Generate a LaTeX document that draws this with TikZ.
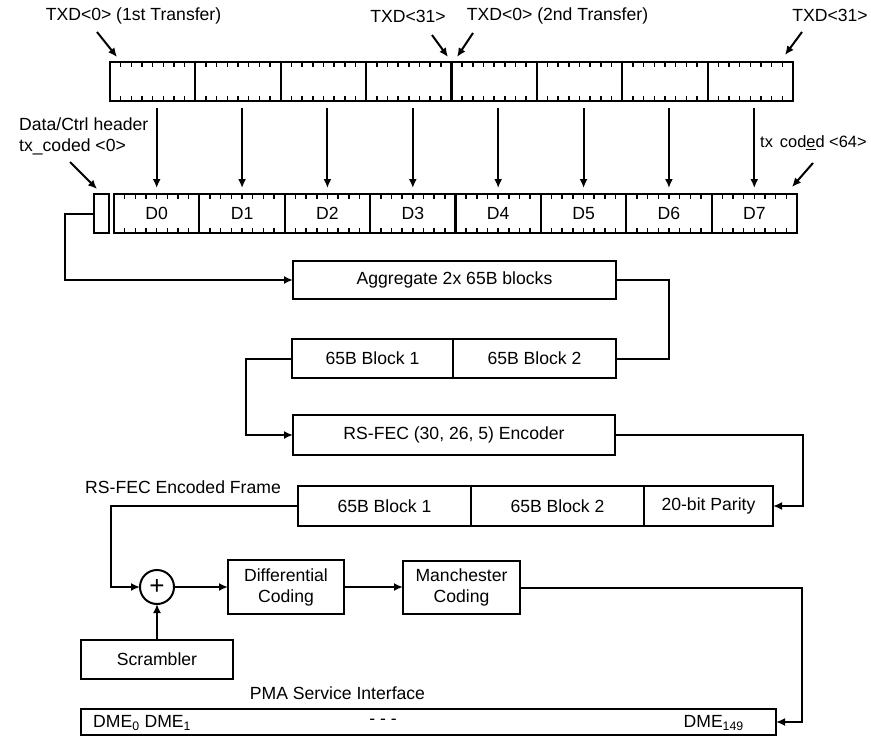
\documentclass[tikz,border=0pt]{standalone}
\usepackage{fontspec}
\setmainfont{Liberation Sans}
\usetikzlibrary{arrows.meta,calc}
\begin{document}
\begin{tikzpicture}[x=1pt,y=-1pt,
  every node/.style={font=\fontsize{17.6}{21}\selectfont, inner sep=0pt},
  box/.style={draw, line width=2.2pt, inner sep=0pt, outer sep=0pt},
  cell/.style={box, minimum width=85.375pt, minimum height=39pt},
  conn/.style={line width=2pt},
  arr/.style={conn, -{Latex[length=9pt,width=8pt]}},
  tickmark/.style={line width=1.5pt}
]
\useasboundingbox (0,0) rectangle (871,736);

% top row and coded row
\foreach \i in {0,...,7} {
  \node[cell] (t\i) at ({110+85.375*(\i+0.5)},81.5) {};
  \node[cell] (d\i) at ({114+85.375*(\i+0.5)},213.5) {D\i};
  \foreach \k in {1,...,7} {
    \draw[tickmark] ($(t\i.north west)!\k/8!(t\i.north east)$) -- ++(0,5);
    \draw[tickmark] ($(t\i.south west)!\k/8!(t\i.south east)$) -- ++(0,-5);
    \draw[tickmark] ($(d\i.north west)!\k/8!(d\i.north east)$) -- ++(0,5);
    \draw[tickmark] ($(d\i.south west)!\k/8!(d\i.south east)$) -- ++(0,-5);
  }
  \draw[arr] ($(d\i.north |- t\i.south)+(0,7)$) -- ($(d\i.north)+(0,-6)$);
}
\node[box, minimum width=15pt, minimum height=39pt] (hdr) at (101.5,213.5) {};

% labels at top
\node (l1) at (133.5,16) {TXD<0> (1st Transfer)};
\node (l2) at (408,16) {TXD<31>};
\node (l3) at (557.5,16) {TXD<0> (2nd Transfer)};
\node (l4) at (830,15) {TXD<31>};
\node[align=left, anchor=north west] (l5) at (19,118) {Data/Ctrl header\\tx\_coded <0>};
\node[anchor=west, font=\fontsize{16.4}{20}\selectfont] (l6) at (760,143) {tx\hspace{7pt}cod\underline{e}d <64>};

\coordinate (a1s) at (97,32);  \coordinate (a1e) at (117,57);
\coordinate (a2s) at (432,35); \coordinate (a2e) at (448,57);
\coordinate (a3s) at (473,33); \coordinate (a3e) at (457,57);
\coordinate (a4s) at (802,32); \coordinate (a4e) at (785,55);
\coordinate (a5s) at (70,162); \coordinate (a5e) at (97,189);
\coordinate (a6s) at (813,163); \coordinate (a6e) at (792,187);
\foreach \n in {1,...,6} { \draw[arr] (a\n s) -- (a\n e); }

% processing chain
\node[box, minimum width=323pt, minimum height=38pt] (agg) at (454.5,280) {Aggregate 2x 65B blocks};
\node[box, minimum width=161pt, minimum height=39pt] (b1) at (372.5,358.5) {65B Block 1};
\node[box, minimum width=163pt, minimum height=39pt] (b2) at (534.5,358.5) {65B Block 2};
\node[box, minimum width=322pt, minimum height=40pt] (rs) at (454,435) {RS-FEC (30, 26, 5) Encoder};
\node[box, minimum width=173pt, minimum height=40pt] (f1) at (384.5,506) {65B Block 1};
\node[box, minimum width=173pt, minimum height=40pt] (f2) at (557.5,506) {65B Block 2};
\node[box, minimum width=129pt, minimum height=40pt] (f3) at (708.5,506) {20-bit Parity};
\node[anchor=west] (l7) at (85,487) {RS-FEC Encoded Frame};

\node[draw, circle, line width=2pt, minimum size=34pt, outer sep=0pt, font=\fontsize{26}{26}\selectfont] (xor) at (157,587) {+};
\node[box, minimum width=116pt, minimum height=54pt, align=center] (diff) at (286,587) {Differential\\Coding};
\node[box, minimum width=117pt, minimum height=53pt, align=center] (man) at (461.5,587.5) {Manchester\\Coding};
\node[box, minimum width=152pt, minimum height=39pt] (scr) at (157,659.5) {Scrambler};
\node (l8) at (337.5,693) {PMA Service Interface};
\node[box, minimum width=695pt, minimum height=26pt] (dme) at (428.5,722) {};
\node[anchor=west] (dm0) at (93,723) {DME\textsubscript{0} DME\textsubscript{1}};
\node (dmd) at (383,722) {- - -};
\node[anchor=east] (dm149) at (744,723) {DME\textsubscript{149}};

% connectors
\draw[arr] (hdr.west) -- (65,213.5) |- (agg.west);
\draw[conn] (agg.east) -- (669,280) |- (b2.east);
\draw[arr] (b1.west) -- (246,358.5) |- (rs.west);
\draw[arr] (rs.east) -- (803,435) |- (f3.east);
\draw[arr] (f1.west) -- (111,506) |- (xor.west);
\draw[arr] (xor.east) -- (diff.west);
\draw[arr] (diff.east) -- (diff.east -| man.west);
\draw[arr] (man.east) -- (802,587.5) |- (dme.east);
\draw[arr] (scr.north) -- (xor.south);
\end{tikzpicture}
\end{document}
